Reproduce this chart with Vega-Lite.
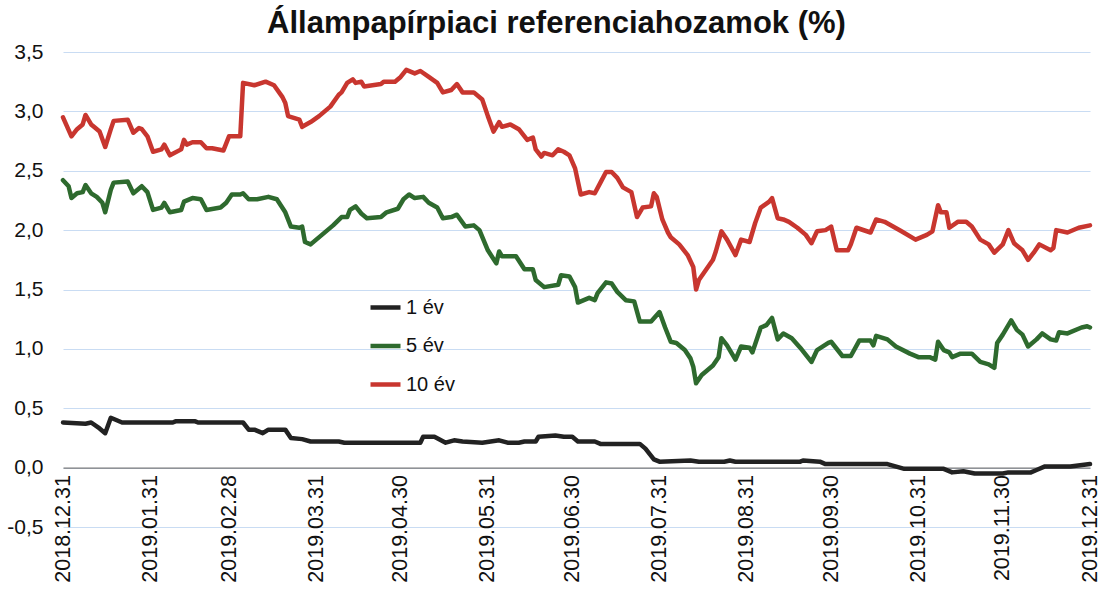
{
  "$schema": "https://vega.github.io/schema/vega-lite/v6.json",
  "width": 1027,
  "height": 475,
  "autosize": {"type": "none"},
  "padding": {"left": 63, "top": 52, "right": 17, "bottom": 66},
  "background": "white",
  "title": {
    "text": "Állampapírpiaci referenciahozamok (%)",
    "font": "Liberation Sans",
    "fontSize": 31,
    "fontWeight": "bold",
    "color": "#111111",
    "anchor": "middle",
    "dx": -20,
    "offset": 1
  },
  "config": {
    "view": {"stroke": null},
    "font": "Liberation Sans"
  },
  "datasets": {
    "s10": [
      {"d":"2018-12-31","v":2.95},{"d":"2019-01-03","v":2.79},{"d":"2019-01-05","v":2.85},{"d":"2019-01-07","v":2.89},{"d":"2019-01-08","v":2.97},{"d":"2019-01-10","v":2.89},{"d":"2019-01-11","v":2.87},{"d":"2019-01-13","v":2.83},{"d":"2019-01-15","v":2.70},{"d":"2019-01-17","v":2.85},{"d":"2019-01-18","v":2.92},{"d":"2019-01-23","v":2.93},{"d":"2019-01-25","v":2.82},{"d":"2019-01-27","v":2.86},{"d":"2019-01-28","v":2.85},{"d":"2019-01-30","v":2.79},
      {"d":"2019-02-01","v":2.66},{"d":"2019-02-04","v":2.68},{"d":"2019-02-05","v":2.72},{"d":"2019-02-07","v":2.63},{"d":"2019-02-11","v":2.68},{"d":"2019-02-12","v":2.76},{"d":"2019-02-13","v":2.72},{"d":"2019-02-15","v":2.74},{"d":"2019-02-18","v":2.74},{"d":"2019-02-20","v":2.69},{"d":"2019-02-22","v":2.69},{"d":"2019-02-26","v":2.67},{"d":"2019-02-28","v":2.79},
      {"d":"2019-03-02","v":2.79},{"d":"2019-03-04","v":2.79},{"d":"2019-03-05","v":3.24},{"d":"2019-03-09","v":3.22},{"d":"2019-03-13","v":3.25},{"d":"2019-03-16","v":3.22},{"d":"2019-03-19","v":3.12},{"d":"2019-03-20","v":3.07},{"d":"2019-03-21","v":2.96},{"d":"2019-03-25","v":2.93},{"d":"2019-03-26","v":2.87},{"d":"2019-03-29","v":2.91},
      {"d":"2019-04-01","v":2.96},{"d":"2019-04-05","v":3.04},{"d":"2019-04-08","v":3.14},{"d":"2019-04-09","v":3.16},{"d":"2019-04-11","v":3.24},{"d":"2019-04-13","v":3.27},{"d":"2019-04-14","v":3.24},{"d":"2019-04-16","v":3.25},{"d":"2019-04-17","v":3.21},{"d":"2019-04-23","v":3.23},{"d":"2019-04-24","v":3.25},{"d":"2019-04-28","v":3.25},{"d":"2019-04-30","v":3.29},
      {"d":"2019-05-02","v":3.35},{"d":"2019-05-05","v":3.32},{"d":"2019-05-07","v":3.34},{"d":"2019-05-10","v":3.29},{"d":"2019-05-13","v":3.24},{"d":"2019-05-15","v":3.16},{"d":"2019-05-18","v":3.18},{"d":"2019-05-20","v":3.23},{"d":"2019-05-22","v":3.16},{"d":"2019-05-26","v":3.16},{"d":"2019-05-29","v":3.10},{"d":"2019-05-31","v":2.96},
      {"d":"2019-06-02","v":2.83},{"d":"2019-06-04","v":2.91},{"d":"2019-06-05","v":2.87},{"d":"2019-06-08","v":2.89},{"d":"2019-06-11","v":2.85},{"d":"2019-06-14","v":2.76},{"d":"2019-06-16","v":2.78},{"d":"2019-06-17","v":2.68},{"d":"2019-06-19","v":2.62},{"d":"2019-06-20","v":2.65},{"d":"2019-06-23","v":2.63},{"d":"2019-06-25","v":2.68},{"d":"2019-06-27","v":2.66},{"d":"2019-06-29","v":2.63},
      {"d":"2019-07-01","v":2.52},{"d":"2019-07-03","v":2.30},{"d":"2019-07-06","v":2.32},{"d":"2019-07-08","v":2.31},{"d":"2019-07-10","v":2.40},{"d":"2019-07-12","v":2.49},{"d":"2019-07-14","v":2.49},{"d":"2019-07-16","v":2.44},{"d":"2019-07-18","v":2.36},{"d":"2019-07-21","v":2.32},{"d":"2019-07-23","v":2.11},{"d":"2019-07-25","v":2.19},{"d":"2019-07-28","v":2.20},{"d":"2019-07-29","v":2.31},{"d":"2019-07-30","v":2.28},
      {"d":"2019-08-01","v":2.09},{"d":"2019-08-03","v":1.98},{"d":"2019-08-04","v":1.94},{"d":"2019-08-07","v":1.88},{"d":"2019-08-10","v":1.79},{"d":"2019-08-12","v":1.69},{"d":"2019-08-13","v":1.50},{"d":"2019-08-14","v":1.58},{"d":"2019-08-19","v":1.75},{"d":"2019-08-20","v":1.82},{"d":"2019-08-22","v":1.99},{"d":"2019-08-24","v":1.92},{"d":"2019-08-27","v":1.79},{"d":"2019-08-29","v":1.92},
      {"d":"2019-09-01","v":1.90},{"d":"2019-09-03","v":2.06},{"d":"2019-09-05","v":2.19},{"d":"2019-09-08","v":2.24},{"d":"2019-09-09","v":2.27},{"d":"2019-09-11","v":2.10},{"d":"2019-09-13","v":2.09},{"d":"2019-09-15","v":2.07},{"d":"2019-09-18","v":2.02},{"d":"2019-09-21","v":1.96},{"d":"2019-09-23","v":1.89},{"d":"2019-09-25","v":1.99},{"d":"2019-09-28","v":2.00},{"d":"2019-09-30","v":2.03},
      {"d":"2019-10-02","v":1.83},{"d":"2019-10-06","v":1.83},{"d":"2019-10-07","v":1.88},{"d":"2019-10-09","v":2.02},{"d":"2019-10-14","v":1.98},{"d":"2019-10-16","v":2.09},{"d":"2019-10-19","v":2.07},{"d":"2019-10-25","v":1.99},{"d":"2019-10-30","v":1.92},
      {"d":"2019-11-03","v":1.96},{"d":"2019-11-05","v":1.99},{"d":"2019-11-07","v":2.21},{"d":"2019-11-08","v":2.15},{"d":"2019-11-10","v":2.15},{"d":"2019-11-11","v":2.02},{"d":"2019-11-14","v":2.07},{"d":"2019-11-17","v":2.07},{"d":"2019-11-19","v":2.03},{"d":"2019-11-22","v":1.92},{"d":"2019-11-25","v":1.88},{"d":"2019-11-27","v":1.81},{"d":"2019-11-30","v":1.88},
      {"d":"2019-12-02","v":2.00},{"d":"2019-12-04","v":1.89},{"d":"2019-12-07","v":1.83},{"d":"2019-12-09","v":1.75},{"d":"2019-12-11","v":1.81},{"d":"2019-12-13","v":1.88},{"d":"2019-12-17","v":1.83},{"d":"2019-12-18","v":1.85},{"d":"2019-12-19","v":2.00},{"d":"2019-12-23","v":1.98},{"d":"2019-12-27","v":2.02},{"d":"2019-12-31","v":2.04}
    ],
    "s5": [
      {"d":"2018-12-31","v":2.42},{"d":"2019-01-02","v":2.37},{"d":"2019-01-03","v":2.27},{"d":"2019-01-05","v":2.31},{"d":"2019-01-07","v":2.32},{"d":"2019-01-08","v":2.38},{"d":"2019-01-10","v":2.31},{"d":"2019-01-12","v":2.28},{"d":"2019-01-14","v":2.23},{"d":"2019-01-15","v":2.15},{"d":"2019-01-17","v":2.34},{"d":"2019-01-18","v":2.40},{"d":"2019-01-23","v":2.41},{"d":"2019-01-25","v":2.31},{"d":"2019-01-28","v":2.37},{"d":"2019-01-30","v":2.32},
      {"d":"2019-02-01","v":2.17},{"d":"2019-02-04","v":2.19},{"d":"2019-02-05","v":2.23},{"d":"2019-02-07","v":2.15},{"d":"2019-02-11","v":2.17},{"d":"2019-02-12","v":2.24},{"d":"2019-02-15","v":2.27},{"d":"2019-02-18","v":2.26},{"d":"2019-02-20","v":2.17},{"d":"2019-02-25","v":2.19},{"d":"2019-02-27","v":2.23},
      {"d":"2019-03-01","v":2.30},{"d":"2019-03-04","v":2.30},{"d":"2019-03-05","v":2.31},{"d":"2019-03-07","v":2.26},{"d":"2019-03-10","v":2.26},{"d":"2019-03-14","v":2.28},{"d":"2019-03-17","v":2.26},{"d":"2019-03-20","v":2.15},{"d":"2019-03-22","v":2.03},{"d":"2019-03-25","v":2.02},{"d":"2019-03-26","v":2.03},{"d":"2019-03-27","v":1.90},{"d":"2019-03-29","v":1.88},
      {"d":"2019-04-02","v":1.96},{"d":"2019-04-06","v":2.04},{"d":"2019-04-09","v":2.11},{"d":"2019-04-11","v":2.11},{"d":"2019-04-12","v":2.17},{"d":"2019-04-14","v":2.20},{"d":"2019-04-16","v":2.14},{"d":"2019-04-18","v":2.10},{"d":"2019-04-23","v":2.11},{"d":"2019-04-25","v":2.15},{"d":"2019-04-29","v":2.18},
      {"d":"2019-05-01","v":2.26},{"d":"2019-05-03","v":2.30},{"d":"2019-05-05","v":2.27},{"d":"2019-05-08","v":2.28},{"d":"2019-05-10","v":2.23},{"d":"2019-05-13","v":2.19},{"d":"2019-05-15","v":2.10},{"d":"2019-05-18","v":2.11},{"d":"2019-05-20","v":2.13},{"d":"2019-05-23","v":2.03},{"d":"2019-05-26","v":2.04},{"d":"2019-05-28","v":2.00},{"d":"2019-05-31","v":1.83},
      {"d":"2019-06-03","v":1.72},{"d":"2019-06-04","v":1.82},{"d":"2019-06-05","v":1.78},{"d":"2019-06-10","v":1.78},{"d":"2019-06-13","v":1.67},{"d":"2019-06-16","v":1.67},{"d":"2019-06-17","v":1.58},{"d":"2019-06-20","v":1.52},{"d":"2019-06-25","v":1.54},{"d":"2019-06-26","v":1.62},{"d":"2019-06-29","v":1.61},
      {"d":"2019-07-01","v":1.52},{"d":"2019-07-02","v":1.39},{"d":"2019-07-06","v":1.43},{"d":"2019-07-08","v":1.41},{"d":"2019-07-09","v":1.47},{"d":"2019-07-12","v":1.56},{"d":"2019-07-14","v":1.55},{"d":"2019-07-16","v":1.48},{"d":"2019-07-19","v":1.41},{"d":"2019-07-22","v":1.40},{"d":"2019-07-24","v":1.23},{"d":"2019-07-28","v":1.23},{"d":"2019-07-31","v":1.31},
      {"d":"2019-08-02","v":1.18},{"d":"2019-08-04","v":1.06},{"d":"2019-08-06","v":1.05},{"d":"2019-08-09","v":0.99},{"d":"2019-08-11","v":0.92},{"d":"2019-08-12","v":0.85},{"d":"2019-08-13","v":0.71},{"d":"2019-08-15","v":0.78},{"d":"2019-08-19","v":0.86},{"d":"2019-08-21","v":0.93},{"d":"2019-08-22","v":1.09},{"d":"2019-08-24","v":1.03},{"d":"2019-08-27","v":0.91},{"d":"2019-08-29","v":1.02},
      {"d":"2019-09-01","v":1.01},{"d":"2019-09-02","v":0.97},{"d":"2019-09-05","v":1.18},{"d":"2019-09-07","v":1.20},{"d":"2019-09-09","v":1.26},{"d":"2019-09-11","v":1.08},{"d":"2019-09-13","v":1.13},{"d":"2019-09-16","v":1.09},{"d":"2019-09-19","v":1.01},{"d":"2019-09-23","v":0.89},{"d":"2019-09-25","v":0.99},{"d":"2019-09-29","v":1.05},{"d":"2019-09-30","v":1.06},
      {"d":"2019-10-04","v":0.94},{"d":"2019-10-07","v":0.94},{"d":"2019-10-10","v":1.07},{"d":"2019-10-14","v":1.07},{"d":"2019-10-15","v":1.03},{"d":"2019-10-16","v":1.11},{"d":"2019-10-20","v":1.08},{"d":"2019-10-23","v":1.02},{"d":"2019-10-28","v":0.96},{"d":"2019-10-31","v":0.93},
      {"d":"2019-11-04","v":0.93},{"d":"2019-11-06","v":0.91},{"d":"2019-11-07","v":1.06},{"d":"2019-11-09","v":0.99},{"d":"2019-11-11","v":0.97},{"d":"2019-11-12","v":0.93},{"d":"2019-11-15","v":0.96},{"d":"2019-11-19","v":0.96},{"d":"2019-11-22","v":0.89},{"d":"2019-11-25","v":0.87},{"d":"2019-11-27","v":0.84},{"d":"2019-11-28","v":1.05},{"d":"2019-11-30","v":1.12},
      {"d":"2019-12-03","v":1.24},{"d":"2019-12-05","v":1.16},{"d":"2019-12-07","v":1.12},{"d":"2019-12-09","v":1.02},{"d":"2019-12-12","v":1.08},{"d":"2019-12-14","v":1.13},{"d":"2019-12-17","v":1.08},{"d":"2019-12-19","v":1.07},{"d":"2019-12-20","v":1.14},{"d":"2019-12-23","v":1.13},{"d":"2019-12-28","v":1.18},{"d":"2019-12-30","v":1.19},{"d":"2019-12-31","v":1.18}
    ],
    "s1": [
      {"d":"2018-12-31","v":0.38},{"d":"2019-01-08","v":0.37},{"d":"2019-01-10","v":0.38},{"d":"2019-01-13","v":0.33},{"d":"2019-01-15","v":0.29},{"d":"2019-01-17","v":0.42},{"d":"2019-01-21","v":0.38},
      {"d":"2019-02-08","v":0.38},{"d":"2019-02-09","v":0.39},{"d":"2019-02-16","v":0.39},{"d":"2019-02-17","v":0.38},
      {"d":"2019-03-05","v":0.38},{"d":"2019-03-07","v":0.32},{"d":"2019-03-09","v":0.32},{"d":"2019-03-12","v":0.29},{"d":"2019-03-14","v":0.32},{"d":"2019-03-20","v":0.32},{"d":"2019-03-22","v":0.25},{"d":"2019-03-26","v":0.24},{"d":"2019-03-29","v":0.22},
      {"d":"2019-04-08","v":0.22},{"d":"2019-04-10","v":0.21},{"d":"2019-05-07","v":0.21},{"d":"2019-05-08","v":0.26},{"d":"2019-05-12","v":0.26},{"d":"2019-05-16","v":0.21},{"d":"2019-05-19","v":0.23},{"d":"2019-05-22","v":0.22},{"d":"2019-05-29","v":0.21},
      {"d":"2019-06-04","v":0.23},{"d":"2019-06-07","v":0.21},{"d":"2019-06-11","v":0.21},{"d":"2019-06-13","v":0.22},{"d":"2019-06-17","v":0.22},{"d":"2019-06-18","v":0.26},{"d":"2019-06-24","v":0.27},{"d":"2019-06-27","v":0.26},{"d":"2019-06-30","v":0.26},
      {"d":"2019-07-02","v":0.22},{"d":"2019-07-08","v":0.22},{"d":"2019-07-10","v":0.20},{"d":"2019-07-24","v":0.20},{"d":"2019-07-26","v":0.16},{"d":"2019-07-29","v":0.07},{"d":"2019-07-31","v":0.05},
      {"d":"2019-08-11","v":0.06},{"d":"2019-08-14","v":0.05},{"d":"2019-08-23","v":0.05},{"d":"2019-08-25","v":0.06},{"d":"2019-08-27","v":0.05},
      {"d":"2019-09-19","v":0.05},{"d":"2019-09-20","v":0.06},{"d":"2019-09-26","v":0.05},{"d":"2019-09-28","v":0.03},
      {"d":"2019-10-20","v":0.03},{"d":"2019-10-26","v":-0.01},{"d":"2019-11-09","v":-0.01},{"d":"2019-11-12","v":-0.04},{"d":"2019-11-16","v":-0.03},{"d":"2019-11-20","v":-0.05},{"d":"2019-11-30","v":-0.05},
      {"d":"2019-12-02","v":-0.04},{"d":"2019-12-10","v":-0.04},{"d":"2019-12-12","v":-0.02},{"d":"2019-12-15","v":0.01},{"d":"2019-12-24","v":0.01},{"d":"2019-12-31","v":0.03}
    ]
  },
  "layer": [
    {
      "data": {"name": "s1"},
      "transform": [{"calculate": "'1 év'", "as": "futamido"}],
      "mark": {"type": "line", "strokeWidth": 4.5, "strokeJoin": "round", "strokeCap": "round"},
      "encoding": {}
    },
    {
      "data": {"name": "s5"},
      "transform": [{"calculate": "'5 év'", "as": "futamido"}],
      "mark": {"type": "line", "strokeWidth": 4.5, "strokeJoin": "round", "strokeCap": "round"},
      "encoding": {}
    },
    {
      "data": {"name": "s10"},
      "transform": [{"calculate": "'10 év'", "as": "futamido"}],
      "mark": {"type": "line", "strokeWidth": 4.5, "strokeJoin": "round", "strokeCap": "round"},
      "encoding": {}
    }
  ],
  "encoding": {
    "x": {
      "field": "d",
      "type": "temporal",
      "scale": {
        "type": "utc",
        "domain": [{"year": 2018, "month": 12, "date": 31, "utc": true}, {"year": 2019, "month": 12, "date": 31, "utc": true}]
      },
      "axis": {
        "title": null,
        "orient": "bottom",
        "offset": -59.4,
        "values": [
          {"year": 2018, "month": 12, "date": 31, "utc": true},
          {"year": 2019, "month": 1, "date": 31, "utc": true},
          {"year": 2019, "month": 2, "date": 28, "utc": true},
          {"year": 2019, "month": 3, "date": 31, "utc": true},
          {"year": 2019, "month": 4, "date": 30, "utc": true},
          {"year": 2019, "month": 5, "date": 31, "utc": true},
          {"year": 2019, "month": 6, "date": 30, "utc": true},
          {"year": 2019, "month": 7, "date": 31, "utc": true},
          {"year": 2019, "month": 8, "date": 31, "utc": true},
          {"year": 2019, "month": 9, "date": 30, "utc": true},
          {"year": 2019, "month": 10, "date": 31, "utc": true},
          {"year": 2019, "month": 11, "date": 30, "utc": true},
          {"year": 2019, "month": 12, "date": 31, "utc": true}
        ],
        "labelExpr": "utcFormat(datum.value, '%Y.%m.%d')",
        "labelAngle": 270,
        "labelFont": "Liberation Sans",
        "labelFontSize": 21.5,
        "labelColor": "#111111",
        "labelPadding": 7,
        "labelOverlap": false,
        "labelFlush": false,
        "labelBound": false,
        "ticks": false,
        "grid": false,
        "domain": true,
        "domainColor": "#7a7a7a",
        "domainWidth": 1.2
      }
    },
    "y": {
      "field": "v",
      "type": "quantitative",
      "scale": {"domain": [-0.5, 3.5], "nice": false, "zero": false},
      "axis": {
        "title": null,
        "values": [-0.5, 0, 0.5, 1, 1.5, 2, 2.5, 3, 3.5],
        "labelExpr": "(datum.value < 0 ? '-' : '') + replace(format(abs(datum.value), '.1f'), '.', ',')",
        "labelFont": "Liberation Sans",
        "labelFontSize": 21,
        "labelColor": "#111111",
        "labelPadding": 20,
        "ticks": false,
        "domain": false,
        "grid": true,
        "gridColor": "#c9dcf3",
        "gridWidth": 1.2
      }
    },
    "color": {
      "field": "futamido",
      "type": "nominal",
      "scale": {"domain": ["1 év", "5 év", "10 év"], "range": ["#222222", "#2e6a2e", "#c8362f"]},
      "legend": {
        "title": null,
        "orient": "none",
        "legendX": 305,
        "legendY": 238,
        "padding": 0,
        "symbolType": "stroke",
        "symbolSize": 900,
        "symbolStrokeWidth": 4.5,
        "labelFont": "Liberation Sans",
        "labelFontSize": 20,
        "labelColor": "#111111",
        "labelOffset": 3,
        "rowPadding": 10.5
      }
    }
  }
}
